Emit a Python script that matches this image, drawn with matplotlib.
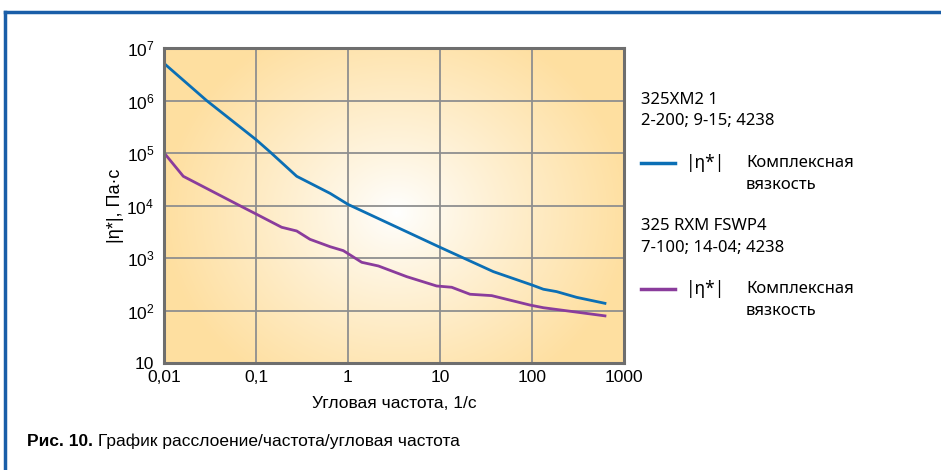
import numpy as np
import matplotlib
matplotlib.use("Agg")
import matplotlib.pyplot as plt
from matplotlib.lines import Line2D
from matplotlib.colors import to_rgb

plt.rcParams['font.family'] = ['Liberation Sans', 'DejaVu Sans']
plt.rcParams['mathtext.fontset'] = 'custom'
plt.rcParams['mathtext.rm'] = 'Liberation Sans'
plt.rcParams['mathtext.it'] = 'Liberation Sans'

# data
freq_a = [0.01, 0.029, 0.1, 0.142, 0.277, 0.64, 1.0, 10, 38, 100, 133, 185, 306, 621]
eta_a = [5.1e6, 1e6, 1.8e5, 1.05e5, 3.6e4, 1.7e4, 1.05e4, 1.6e3, 550, 306, 254, 229, 178, 137]
freq_b = [0.0105, 0.0162, 0.07, 0.1, 0.19, 0.277, 0.386, 0.64, 0.89, 1.41, 2.14,
          4.35, 9.2, 13.4, 21.2, 36.5, 95, 133, 621]
eta_b = [9.1e4, 3.6e4, 9.5e3, 6.9e3, 3.85e3, 3.27e3, 2.27e3, 1.64e3, 1.38e3, 828, 705,
         441, 293, 277, 204, 192, 127, 113, 79]

x_ticks = [0.01, 0.1, 1, 10, 100, 1000]
x_labels = ['0,01', '0,1', '1', '10', '100', '1000']
y_ticks = [10, 1e2, 1e3, 1e4, 1e5, 1e6, 1e7]
y_labels = ['10', '$10^{2}$', '$10^{3}$', '$10^{4}$', '$10^{5}$', '$10^{6}$', '$10^{7}$']

sample_a = ['325XM2 1', '2-200; 9-15; 4238']
sample_b = ['325 RXM FSWP4', '7-100; 14-04; 4238']
series_name = '|η*|'
series_desc = ['Комплексная', 'вязкость']

blue = '#0b6fb5'
purple = '#8a3c9c'
W, H = 941, 470


def fx(x):
    return x / W


def fy(y):
    return 1 - y / H


fig = plt.figure(figsize=(9.41, 4.70), dpi=100)
fig.patch.set_facecolor('white')

ax = fig.add_axes([fx(164), fy(363), (624 - 164) / W, (363 - 48) / H])

# radial background, white in the middle, warm yellow at the edges
nx, ny = 460, 315
u, v = np.meshgrid(np.arange(nx), np.arange(ny))
cx, cy = 232, 150
r = np.sqrt((u - cx) ** 2 + ((v - cy) * 1.15) ** 2) / 235.0
t = np.clip(r, 0, 1) ** 0.9
edge = np.array(to_rgb('#fedfa0'))
img = (1 - t)[..., None] * np.ones(3) + t[..., None] * edge
ax.imshow(img, extent=[0, 1, 1, 0], transform=ax.transAxes, aspect='auto',
          zorder=0, origin='upper')

ax.set_xscale('log')
ax.set_yscale('log')
ax.set_xlim(0.01, 1000)
ax.set_ylim(10, 1e7)

ax.plot(freq_a, eta_a, color=blue, lw=2.0, zorder=3, solid_joinstyle='round')
ax.plot(freq_b, eta_b, color=purple, lw=2.0, zorder=3, solid_joinstyle='round')

ax.set_xticks(x_ticks)
ax.set_xticklabels(x_labels)
ax.set_yticks(y_ticks)
ax.set_yticklabels(y_labels)
ax.minorticks_off()
ax.tick_params(length=0, labelsize=12.5, pad=5)
ax.tick_params(axis='y', pad=7)
ax.grid(True, color='#8f8f8f', lw=1.3, zorder=1)
ax.set_axisbelow(False)
for s in ax.spines.values():
    s.set_color('#6e6e6e')
    s.set_linewidth(2.2)
    s.set_zorder(4)

ax.set_xlabel('Угловая частота, 1/с', fontsize=12.5, labelpad=8)
ax.set_ylabel('|η*|, Па·с', fontsize=13, labelpad=2)

# legend block on the right
font_leg = ['Noto Sans', 'DejaVu Sans']
for text, y in zip(sample_a, [100, 121]):
    fig.text(fx(641), fy(y), text, fontsize=12, family=font_leg, va='center')
for text, y in zip(sample_b, [226, 248]):
    fig.text(fx(641), fy(y), text, fontsize=12, family=font_leg, va='center')

for col, y in [(blue, 163), (purple, 289)]:
    fig.add_artist(Line2D([fx(641), fx(675)], [fy(y), fy(y)], color=col, lw=2.5))
    fig.text(fx(686), fy(y), series_name, fontsize=12.5, family=font_leg, va='center')
    fig.text(fx(746), fy(y), series_desc[0], fontsize=12, family=font_leg, va='center')
    fig.text(fx(746), fy(y + 22), series_desc[1], fontsize=12, family=font_leg, va='center')

# caption
cap_font = ['Liberation Sans Narrow', 'Liberation Sans', 'DejaVu Sans']
t1 = fig.text(fx(27), fy(441), 'Рис. 10.', fontsize=12.5, weight='bold', family=cap_font,
              va='center')
fig.canvas.draw()
bb = t1.get_window_extent()
fig.text(fx(bb.x1 + 5), fy(441), 'График расслоение/частота/угловая частота', fontsize=12.5,
         family=cap_font, va='center')

# blue frame: top and left edges
frame = '#1a5ea8'
fig.add_artist(Line2D([fx(5), fx(W)], [fy(12), fy(12)], color=frame, lw=2.5))
fig.add_artist(Line2D([fx(5), fx(5)], [fy(12), fy(H)], color=frame, lw=2.5))

fig.savefig('out.png', dpi=100)
